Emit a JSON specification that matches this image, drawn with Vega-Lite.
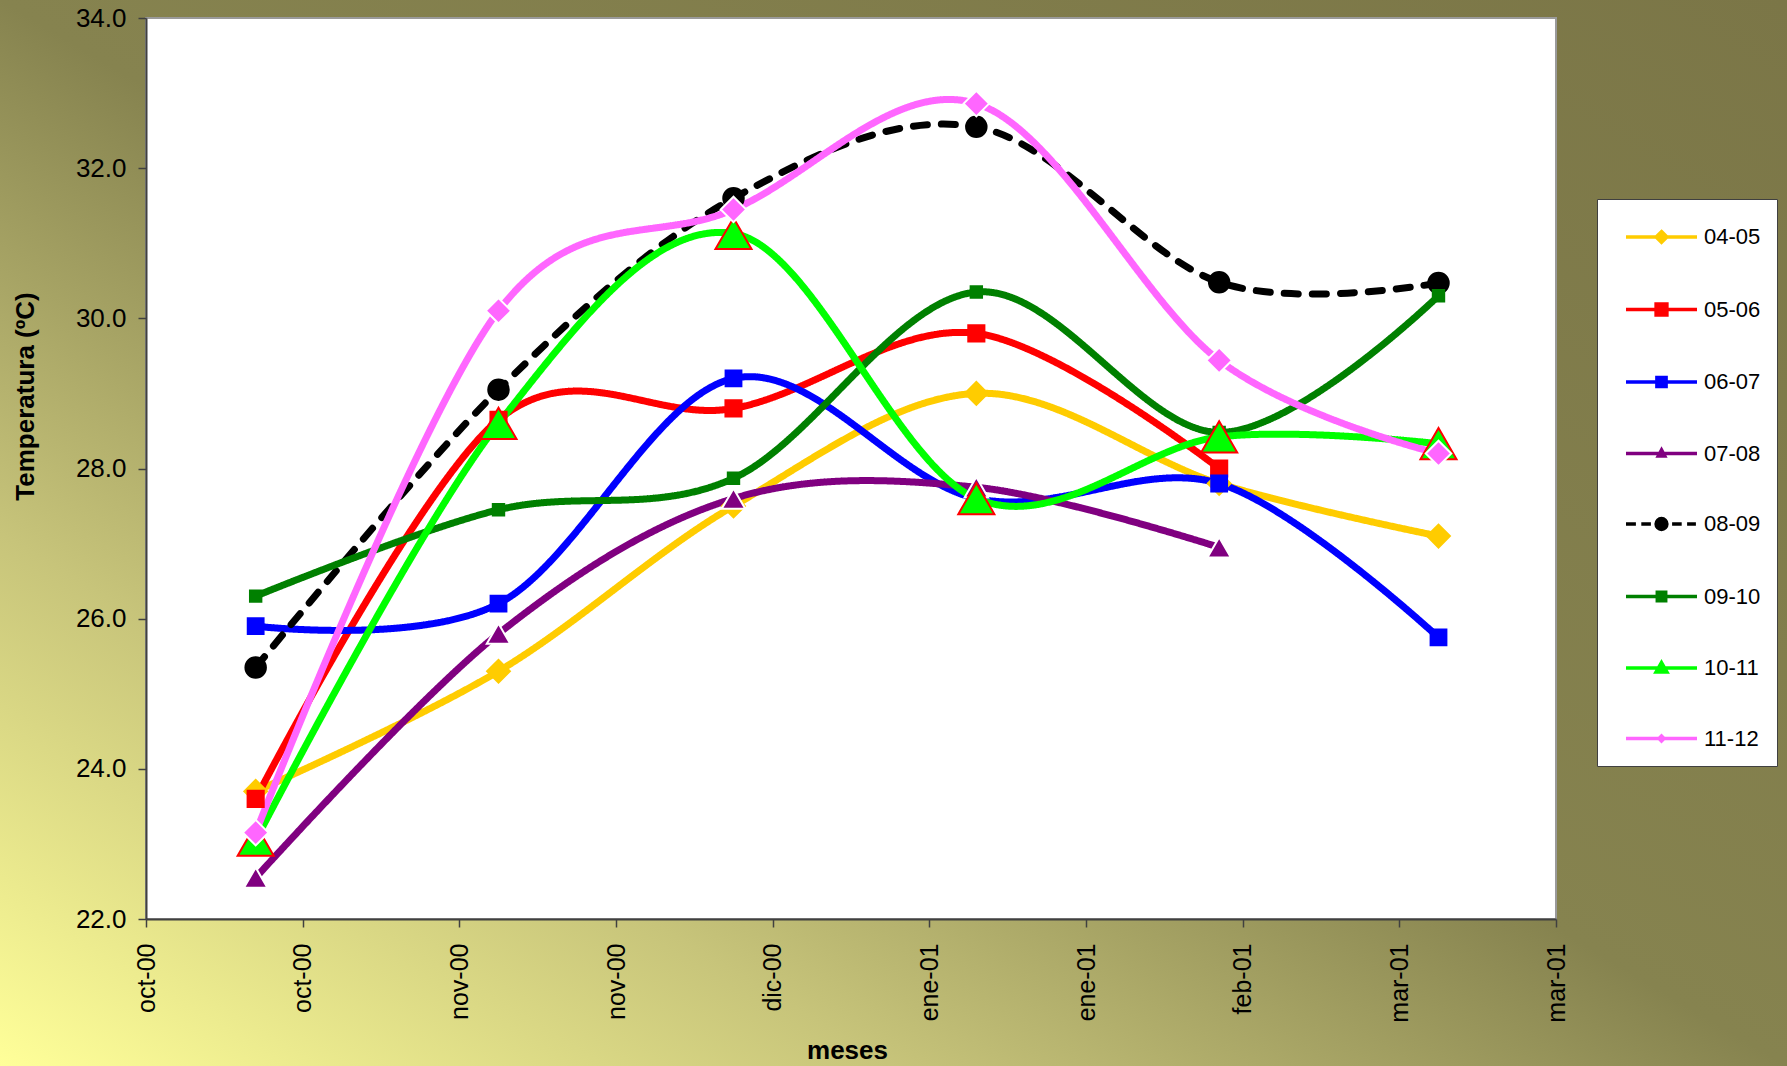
{
  "$schema": "https://vega.github.io/schema/vega-lite/v6.json",
  "width": 1787,
  "height": 1066,
  "autosize": "none",
  "padding": 0,
  "background": "#B5B26C",
  "view": {
    "stroke": null,
    "fill": {
      "gradient": "linear",
      "x1": 0, "y1": 1, "x2": 1, "y2": 0,
      "stops": [
        {"offset": 0, "color": "#FFFF99"},
        {"offset": 0.25, "color": "#C7C47A"},
        {"offset": 0.5, "color": "#86834F"},
        {"offset": 1, "color": "#7B7647"}
      ]
    }
  },
  "config": {"font": "Liberation Sans"},
  "data": {
    "values": [
      {"serie": "04-05", "fecha": "2000-10-15", "t": 23.7},
      {"serie": "04-05", "fecha": "2000-11-15", "t": 25.3},
      {"serie": "04-05", "fecha": "2000-12-15", "t": 27.5},
      {"serie": "04-05", "fecha": "2001-01-15", "t": 29.0},
      {"serie": "04-05", "fecha": "2001-02-15", "t": 27.8},
      {"serie": "04-05", "fecha": "2001-03-15", "t": 27.1},
      {"serie": "05-06", "fecha": "2000-10-15", "t": 23.6},
      {"serie": "05-06", "fecha": "2000-11-15", "t": 28.65},
      {"serie": "05-06", "fecha": "2000-12-15", "t": 28.8},
      {"serie": "05-06", "fecha": "2001-01-15", "t": 29.8},
      {"serie": "05-06", "fecha": "2001-02-15", "t": 28.0},
      {"serie": "06-07", "fecha": "2000-10-15", "t": 25.9},
      {"serie": "06-07", "fecha": "2000-11-15", "t": 26.2},
      {"serie": "06-07", "fecha": "2000-12-15", "t": 29.2},
      {"serie": "06-07", "fecha": "2001-01-15", "t": 27.6},
      {"serie": "06-07", "fecha": "2001-02-15", "t": 27.8},
      {"serie": "06-07", "fecha": "2001-03-15", "t": 25.75},
      {"serie": "07-08", "fecha": "2000-10-15", "t": 22.55},
      {"serie": "07-08", "fecha": "2000-11-15", "t": 25.8},
      {"serie": "07-08", "fecha": "2000-12-15", "t": 27.6},
      {"serie": "07-08", "fecha": "2001-01-15", "t": 27.75},
      {"serie": "07-08", "fecha": "2001-02-15", "t": 26.95},
      {"serie": "08-09", "fecha": "2000-10-15", "t": 25.35},
      {"serie": "08-09", "fecha": "2000-11-15", "t": 29.05},
      {"serie": "08-09", "fecha": "2000-12-15", "t": 31.6},
      {"serie": "08-09", "fecha": "2001-01-15", "t": 32.55},
      {"serie": "08-09", "fecha": "2001-02-15", "t": 30.48},
      {"serie": "08-09", "fecha": "2001-03-15", "t": 30.47},
      {"serie": "09-10", "fecha": "2000-10-15", "t": 26.3},
      {"serie": "09-10", "fecha": "2000-11-15", "t": 27.45},
      {"serie": "09-10", "fecha": "2000-12-15", "t": 27.87},
      {"serie": "09-10", "fecha": "2001-01-15", "t": 30.35},
      {"serie": "09-10", "fecha": "2001-02-15", "t": 28.48},
      {"serie": "09-10", "fecha": "2001-03-15", "t": 30.3},
      {"serie": "10-11", "fecha": "2000-10-15", "t": 23.05},
      {"serie": "10-11", "fecha": "2000-11-15", "t": 28.6},
      {"serie": "10-11", "fecha": "2000-12-15", "t": 31.13},
      {"serie": "10-11", "fecha": "2001-01-15", "t": 27.6},
      {"serie": "10-11", "fecha": "2001-02-15", "t": 28.42},
      {"serie": "10-11", "fecha": "2001-03-15", "t": 28.33},
      {"serie": "11-12", "fecha": "2000-10-15", "t": 23.15},
      {"serie": "11-12", "fecha": "2000-11-15", "t": 30.1},
      {"serie": "11-12", "fecha": "2000-12-15", "t": 31.45},
      {"serie": "11-12", "fecha": "2001-01-15", "t": 32.86},
      {"serie": "11-12", "fecha": "2001-02-15", "t": 29.44},
      {"serie": "11-12", "fecha": "2001-03-15", "t": 28.2}
    ]
  },
  "layer": [
    {
      "data": {"values": [{}]},
      "mark": {"type": "rect", "fill": "#FFFFFF", "stroke": "#9A9A9A", "strokeWidth": 2},
      "encoding": {
        "x": {
          "datum": {"year": 2000, "month": 10, "date": 1, "utc": true},
          "type": "temporal",
          "scale": {"type": "utc", "domain": [{"year": 2000, "month": 10, "date": 1, "utc": true}, {"year": 2001, "month": 3, "date": 30, "utc": true}], "range": [146, 1556]},
          "axis": {
            "title": "meses",
            "values": [
              {"year": 2000, "month": 10, "date": 1, "utc": true},
              {"year": 2000, "month": 10, "date": 21, "utc": true},
              {"year": 2000, "month": 11, "date": 10, "utc": true},
              {"year": 2000, "month": 11, "date": 30, "utc": true},
              {"year": 2000, "month": 12, "date": 20, "utc": true},
              {"year": 2001, "month": 1, "date": 9, "utc": true},
              {"year": 2001, "month": 1, "date": 29, "utc": true},
              {"year": 2001, "month": 2, "date": 18, "utc": true},
              {"year": 2001, "month": 3, "date": 10, "utc": true},
              {"year": 2001, "month": 3, "date": 30, "utc": true}
            ],
            "labelExpr": "['ene','feb','mar','abr','may','jun','jul','ago','sep','oct','nov','dic'][utcmonth(datum.value)] + '-' + utcFormat(datum.value, '%y')",
            "labelAngle": -90,
            "labelFont": "Liberation Sans",
            "labelFontSize": 25,
            "labelColor": "#000000",
            "labelPadding": 16,
            "labelFlush": false,
            "labelOverlap": false,
            "labelBound": false,
            "tickSize": 8,
            "tickColor": "#404040",
            "tickWidth": 1.5,
            "domainColor": "#404040",
            "domainWidth": 2,
            "grid": false,
            "offset": -147,
            "zindex": 1,
            "titleFont": "Liberation Sans",
            "titleFontSize": 26,
            "titleFontWeight": "bold",
            "titleColor": "#000000",
            "titleX": 847,
            "titleY": 131,
            "titleBaseline": "middle",
            "titleAlign": "center"
          }
        },
        "x2": {"datum": {"year": 2001, "month": 3, "date": 30, "utc": true}},
        "y": {
          "datum": 34,
          "type": "quantitative",
          "scale": {"domain": [22, 34], "range": [919, 18], "nice": false, "zero": false},
          "axis": {
            "title": "Temperatura (ºC)",
            "values": [22, 24, 26, 28, 30, 32, 34],
            "format": ".1f",
            "labelFont": "Liberation Sans",
            "labelFontSize": 26,
            "labelColor": "#000000",
            "labelPadding": 12,
            "labelFlush": false,
            "labelOverlap": false,
            "tickSize": 8,
            "tickColor": "#404040",
            "tickWidth": 1.5,
            "domainColor": "#404040",
            "domainWidth": 2,
            "grid": false,
            "offset": -146,
            "zindex": 1,
            "titleFont": "Liberation Sans",
            "titleFontSize": 26,
            "titleFontWeight": "bold",
            "titleColor": "#000000",
            "titleAngle": 270,
            "titleX": -121,
            "titleY": 396,
            "titleBaseline": "middle",
            "titleAlign": "center"
          }
        },
        "y2": {"datum": 22}
      }
    },
    {
      "mark": {"type": "line", "interpolate": "cardinal", "strokeWidth": 7, "strokeCap": "round", "strokeJoin": "round"},
      "encoding": {
        "x": {
          "field": "fecha",
          "type": "temporal",
          "scale": {"type": "utc", "domain": [{"year": 2000, "month": 10, "date": 1, "utc": true}, {"year": 2001, "month": 3, "date": 30, "utc": true}], "range": [146, 1556]},
          "axis": {
            "title": "meses",
            "values": [
              {"year": 2000, "month": 10, "date": 1, "utc": true},
              {"year": 2000, "month": 10, "date": 21, "utc": true},
              {"year": 2000, "month": 11, "date": 10, "utc": true},
              {"year": 2000, "month": 11, "date": 30, "utc": true},
              {"year": 2000, "month": 12, "date": 20, "utc": true},
              {"year": 2001, "month": 1, "date": 9, "utc": true},
              {"year": 2001, "month": 1, "date": 29, "utc": true},
              {"year": 2001, "month": 2, "date": 18, "utc": true},
              {"year": 2001, "month": 3, "date": 10, "utc": true},
              {"year": 2001, "month": 3, "date": 30, "utc": true}
            ],
            "labelExpr": "['ene','feb','mar','abr','may','jun','jul','ago','sep','oct','nov','dic'][utcmonth(datum.value)] + '-' + utcFormat(datum.value, '%y')",
            "labelAngle": -90,
            "labelFont": "Liberation Sans",
            "labelFontSize": 25,
            "labelColor": "#000000",
            "labelPadding": 16,
            "labelFlush": false,
            "labelOverlap": false,
            "labelBound": false,
            "tickSize": 8,
            "tickColor": "#404040",
            "tickWidth": 1.5,
            "domainColor": "#404040",
            "domainWidth": 2,
            "grid": false,
            "offset": -147,
            "zindex": 1,
            "titleFont": "Liberation Sans",
            "titleFontSize": 26,
            "titleFontWeight": "bold",
            "titleColor": "#000000",
            "titleX": 847,
            "titleY": 131,
            "titleBaseline": "middle",
            "titleAlign": "center"
          }
        },
        "y": {
          "field": "t",
          "type": "quantitative",
          "scale": {"domain": [22, 34], "range": [919, 18], "nice": false, "zero": false},
          "axis": {
            "title": "Temperatura (ºC)",
            "values": [22, 24, 26, 28, 30, 32, 34],
            "format": ".1f",
            "labelFont": "Liberation Sans",
            "labelFontSize": 26,
            "labelColor": "#000000",
            "labelPadding": 12,
            "labelFlush": false,
            "labelOverlap": false,
            "tickSize": 8,
            "tickColor": "#404040",
            "tickWidth": 1.5,
            "domainColor": "#404040",
            "domainWidth": 2,
            "grid": false,
            "offset": -146,
            "zindex": 1,
            "titleFont": "Liberation Sans",
            "titleFontSize": 26,
            "titleFontWeight": "bold",
            "titleColor": "#000000",
            "titleAngle": 270,
            "titleX": -121,
            "titleY": 396,
            "titleBaseline": "middle",
            "titleAlign": "center"
          }
        },
        "color": {
          "field": "serie",
          "type": "nominal",
          "scale": {
            "domain": ["04-05", "05-06", "06-07", "07-08", "08-09", "09-10", "10-11", "11-12"],
            "range": ["#FFCC00", "#FF0000", "#0000FF", "#800080", "#000000", "#008000", "#00FF00", "#FF66FF"]
          },
          "legend": {
            "title": null,
            "orient": "none",
            "legendX": 1597,
            "legendY": 199,
            "fillColor": "#FFFFFF",
            "strokeColor": "#404040",
            "padding": 16,
            "symbolSize": 1600,
            "symbolStrokeWidth": 3.5,
            "symbolOffset": 26.5,
            "symbolType": "stroke",
            "rowPadding": 37.5,
            "labelFont": "Liberation Sans",
            "labelFontSize": 22,
            "labelColor": "#000000",
            "labelOffset": 20.5,
            "encode": {
              "symbols": {
                "update": {
                  "shape": {"signal": "['M-1.775,0H1.775M0,-0.27L0.27,0L0,0.27L-0.27,0Z','M-1.775,0H1.775M-0.27,-0.27H0.27V0.27H-0.27Z','M-1.775,0H1.775M-0.23,-0.23H0.23V0.23H-0.23Z','M-1.775,0H1.775M0,-0.18L0.16,0.12H-0.16Z','M-1.775,0H-1.28M-1.01,0H-0.53M0.53,0H1.01M1.28,0H1.72M-0.27,0A0.27,0.27,0,1,1,0.27,0A0.27,0.27,0,1,1,-0.27,0Z','M-1.775,0H1.775M-0.21,-0.21H0.21V0.21H-0.21Z','M-1.775,0H1.775M0,-0.27L0.27,0.2H-0.27Z','M-1.775,0H1.775M0,-0.125L0.125,0L0,0.125L-0.125,0Z'][indexof(['04-05','05-06','06-07','07-08','08-09','09-10','10-11','11-12'], datum.value)]"},
                  "fill": {"signal": "['#FFCC00','#FF0000','#0000FF','#800080','#000000','#008000','#00FF00','#FF66FF'][indexof(['04-05','05-06','06-07','07-08','08-09','09-10','10-11','11-12'], datum.value)]"},
                  "stroke": {"signal": "['#FFCC00','#FF0000','#0000FF','#800080','#000000','#008000','#00FF00','#FF66FF'][indexof(['04-05','05-06','06-07','07-08','08-09','09-10','10-11','11-12'], datum.value)]"},
                  "fillOpacity": {"value": 1},
                  "strokeOpacity": {"value": 1},
                  "opacity": {"value": 1},
                  "strokeWidth": {"value": 3.5},
                  "strokeDash": {"value": []}
                }
              }
            }
          }
        },
        "strokeDash": {
          "field": "serie",
          "type": "nominal",
          "scale": {
            "range": [[1, 0], [1, 0], [1, 0], [1, 0], [14, 14], [1, 0], [1, 0], [1, 0]]
          },
          "legend": null
        }
      }
    },
    {
      "mark": {"type": "point", "filled": true, "opacity": 1, "strokeWidth": 2, "strokeOpacity": 1, "fillOpacity": 1},
      "encoding": {
        "x": {"field": "fecha", "type": "temporal"},
        "y": {"field": "t", "type": "quantitative"},
        "shape": {
          "field": "serie",
          "type": "nominal",
          "scale": {
            "range": ["diamond", "square", "square", "triangle-up", "circle", "square", "triangle-up", "diamond"]
          },
          "legend": null
        },
        "size": {
          "field": "serie",
          "type": "nominal",
          "scale": {
            "type": "ordinal",
            "range": [520, 260, 250, 550, 420, 130, 1300, 650]
          },
          "legend": null
        },
        "fill": {
          "field": "serie",
          "type": "nominal",
          "scale": {
            "range": ["#FFCC00", "#FF0000", "#0000FF", "#800080", "#000000", "#008000", "#00FF00", "#FF66FF"]
          },
          "legend": null
        },
        "stroke": {
          "field": "serie",
          "type": "nominal",
          "scale": {
            "range": ["#FFCC00", "#FF0000", "#0000FF", "#FFFFFF", "#000000", "#008000", "#FF0000", "#FFFFFF"]
          },
          "legend": null
        }
      }
    }
  ]
}
